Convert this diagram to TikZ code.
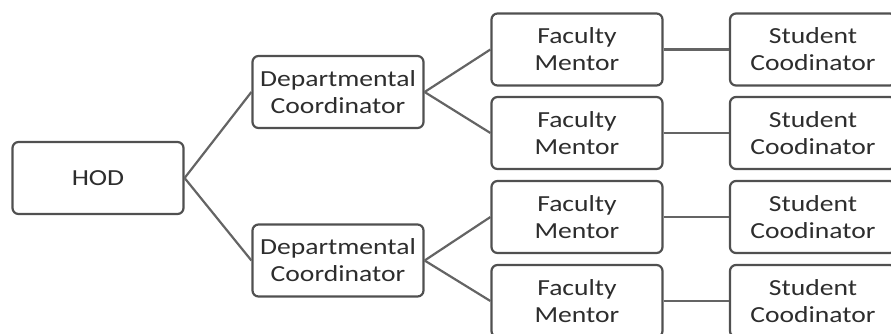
\documentclass[tikz,border=0pt]{standalone}
\usepackage{fontspec}
\setmainfont{Carlito}[FakeStretch=1.2]
\definecolor{boxline}{RGB}{80,80,80}
\definecolor{conline}{RGB}{100,100,100}
\definecolor{txt}{RGB}{45,45,45}
\begin{document}
\begin{tikzpicture}[x=1pt,y=-1pt,
  box/.style={draw=boxline, line width=2.2pt, rounded corners=6pt, fill=white,
    minimum width=171pt, minimum height=72pt, inner sep=0pt, align=center,
    text=txt, font=\fontsize{23}{27}\selectfont},
  sbox/.style={box, minimum width=166pt},
  conn/.style={draw=conline, line width=2.2pt}]
\useasboundingbox (0,0) rectangle (891,333);
\node[box] (hod) at (98,178) {HOD};
\node[box] (d1) at (338,92) {Departmental\\Coordinator};
\node[box] (d2) at (338,260.5) {Departmental\\Coordinator};
\node[box] (f1) at (577,49.5) {Faculty\\Mentor};
\node[box] (f2) at (577,133) {Faculty\\Mentor};
\node[box] (f3) at (577,217) {Faculty\\Mentor};
\node[box] (f4) at (577,301) {Faculty\\Mentor};
\node[sbox] (s1) at (813,49.5) {Student\\Coodinator};
\node[sbox] (s2) at (813,133) {Student\\Coodinator};
\node[sbox] (s3) at (813,217) {Student\\Coodinator};
\node[sbox] (s4) at (813,301) {Student\\Coodinator};
\draw[conn] (hod.east) -- (d1.west);
\draw[conn] (hod.east) -- (d2.west);
\draw[conn] (d1.east) -- (f1.west);
\draw[conn] (d1.east) -- (f2.west);
\draw[conn] (d2.east) -- (f3.west);
\draw[conn] (d2.east) -- (f4.west);
\draw[conn] (f1.east) -- (s1.west);
\draw[conn] (f2.east) -- (s2.west);
\draw[conn] (f3.east) -- (s3.west);
\draw[conn] (f4.east) -- (s4.west);
\end{tikzpicture}
\end{document}
